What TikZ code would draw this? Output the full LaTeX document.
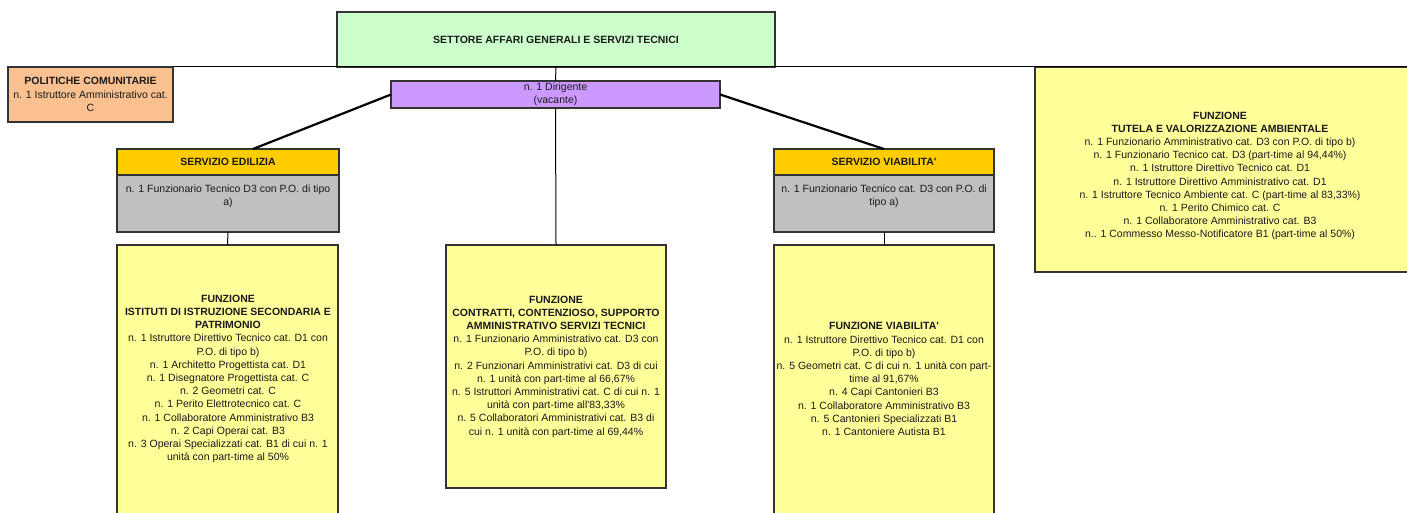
\documentclass[tikz,border=0pt]{standalone}
\usepackage{fontspec}
\setmainfont{Liberation Sans}[Ligatures=TeXOff]
\usetikzlibrary{calc}
\definecolor{cgreen}{HTML}{CCFFCC}
\definecolor{corange}{HTML}{FAC090}
\definecolor{cviolet}{HTML}{CC99FF}
\definecolor{cgold}{HTML}{FFCC00}
\definecolor{cgray}{HTML}{C0C0C0}
\definecolor{cyellow}{HTML}{FFFF99}
\definecolor{cborder}{HTML}{333333}
\definecolor{ctext}{HTML}{1A1A1A}
\tikzset{
  box/.style={draw=cborder, line width=0.55pt, inner sep=0pt, outer sep=0pt, align=center, text=ctext,
    font=\fontsize{5.25}{6.6}\selectfont},
  txt/.style={inner sep=0pt, outer sep=0pt, align=center, text=ctext, font=\fontsize{5.25}{6.6}\selectfont},
  thin/.style={draw=black, line width=0.5pt},
  thick/.style={draw=black, line width=1.1pt},
}
\begin{document}
\begin{tikzpicture}[x=0.5pt, y=-0.5pt]
\path[use as bounding box, clip] (0,0) rectangle (1407,513);
\fill[white] (0,0) rectangle (1407,513);

% top sector
\node[box, fill=cgreen, minimum width=219pt, minimum height=27.5pt] (green) at (556,39.5)
  {\textbf{SETTORE AFFARI GENERALI E SERVIZI TECNICI}};

% politiche comunitarie
\node[box, fill=corange, minimum width=82.5pt, minimum height=27.5pt] (pol) at (90.5,94.5)
  {\textbf{POLITICHE COMUNITARIE}\\n. 1 Istruttore Amministrativo cat.\\C};

% right function box
\node[box, fill=cyellow, minimum width=188.5pt, minimum height=102.5pt, anchor=north west] (tutela) at (1035,67) {};
\node[txt] (tutelatxt) at (1220,176)
  {\textbf{FUNZIONE}\\
   \textbf{TUTELA E VALORIZZAZIONE AMBIENTALE}\\
   n. 1 Funzionario Amministrativo cat. D3 con P.O. di tipo b)\\
   n. 1 Funzionario Tecnico cat. D3 (part-time al 94,44\%)\\
   n. 1 Istruttore Direttivo Tecnico cat. D1\\
   n. 1 Istruttore Direttivo Amministrativo cat. D1\\
   n. 1 Istruttore Tecnico Ambiente cat. C (part-time al 83,33\%)\\
   n. 1 Perito Chimico cat. C\\
   n. 1 Collaboratore Amministrativo cat. B3\\
   n.. 1 Commesso Messo-Notificatore B1 (part-time al 50\%)};

% dirigente
\node[box, fill=cviolet, minimum width=164.5pt, minimum height=13.5pt] (dir) at (555.5,94.5)
  {n. 1 Dirigente\\(vacante)};

% servizio edilizia
\node[box, fill=cgold, minimum width=111pt, minimum height=13pt] (edilhead) at (228,162)
  {\textbf{SERVIZIO EDILIZIA}};
\node[box, fill=cgray, minimum width=111pt, minimum height=28.5pt, anchor=north] (edilbody) at (228,175) {};
\node[txt, anchor=north] (edilbodytxt) at (228,185)
  {n. 1 Funzionario Tecnico D3 con P.O. di tipo\\a)};
\node[box, fill=cyellow, minimum width=110.5pt, minimum height=140pt, anchor=north] (edilfun) at (227.5,245) {};
\node[txt] (edilfuntxt) at (228,379)
  {\textbf{FUNZIONE}\\
   \textbf{ISTITUTI DI ISTRUZIONE SECONDARIA E}\\
   \textbf{PATRIMONIO}\\
   n. 1 Istruttore Direttivo Tecnico cat. D1 con\\
   P.O. di tipo b)\\
   n. 1 Architetto Progettista cat. D1\\
   n. 1 Disegnatore Progettista cat. C\\
   n. 2 Geometri cat. C\\
   n. 1 Perito Elettrotecnico cat. C\\
   n. 1 Collaboratore Amministrativo B3\\
   n. 2 Capi Operai cat. B3\\
   n. 3 Operai Specializzati cat. B1 di cui n. 1\\
   unità con part-time al 50\%};

% middle function
\node[box, fill=cyellow, minimum width=110pt, minimum height=121.5pt, anchor=north] (mid) at (556,245)
  {\textbf{FUNZIONE}\\
   \textbf{CONTRATTI, CONTENZIOSO, SUPPORTO}\\
   \textbf{AMMINISTRATIVO SERVIZI TECNICI}\\
   n. 1 Funzionario Amministrativo cat. D3 con\\
   P.O. di tipo b)\\
   n. 2 Funzionari Amministrativi cat. D3 di cui\\
   n. 1 unità con part-time al 66,67\%\\
   n. 5 Istruttori Amministrativi cat. C di cui n. 1\\
   unità con part-time all'83,33\%\\
   n. 5 Collaboratori Amministrativi cat. B3 di\\
   cui n. 1 unità con part-time al 69,44\%};

% servizio viabilita
\node[box, fill=cgold, minimum width=110pt, minimum height=13pt] (viabhead) at (884,162)
  {\textbf{SERVIZIO VIABILITA'}};
\node[box, fill=cgray, minimum width=110pt, minimum height=28.5pt, anchor=north] (viabbody) at (884,175) {};
\node[txt, anchor=north] (viabbodytxt) at (884,185)
  {n. 1 Funzionario Tecnico cat. D3 con P.O. di\\tipo a)};
\node[box, fill=cyellow, minimum width=110pt, minimum height=140pt, anchor=north] (viabfun) at (884,245) {};
\node[txt] (viabfuntxt) at (884,379)
  {\textbf{FUNZIONE VIABILITA'}\\
   n. 1 Istruttore Direttivo Tecnico cat. D1 con\\
   P.O. di tipo b)\\
   n. 5 Geometri cat. C di cui n. 1 unità con part-\\
   time al 91,67\%\\
   n. 4 Capi Cantonieri B3\\
   n. 1 Collaboratore Amministrativo B3\\
   n. 5 Cantonieri Specializzati B1\\
   n. 1 Cantoniere Autista B1};

% connectors
\draw[thin] (pol.north east) -- (tutela.north east);
\draw[thin] (green.south) -- (dir.north);
\draw[thin] (dir.south) -- (mid.north);
\draw[thin] (edilbody.south) -- (edilfun.north);
\draw[thin] (viabbody.south) -- (viabfun.north);
\draw[thick] (dir.west) -- ($(edilhead.north)+(25,0)$);
\draw[thick] (dir.east) -- (viabhead.north);
\end{tikzpicture}
\end{document}
